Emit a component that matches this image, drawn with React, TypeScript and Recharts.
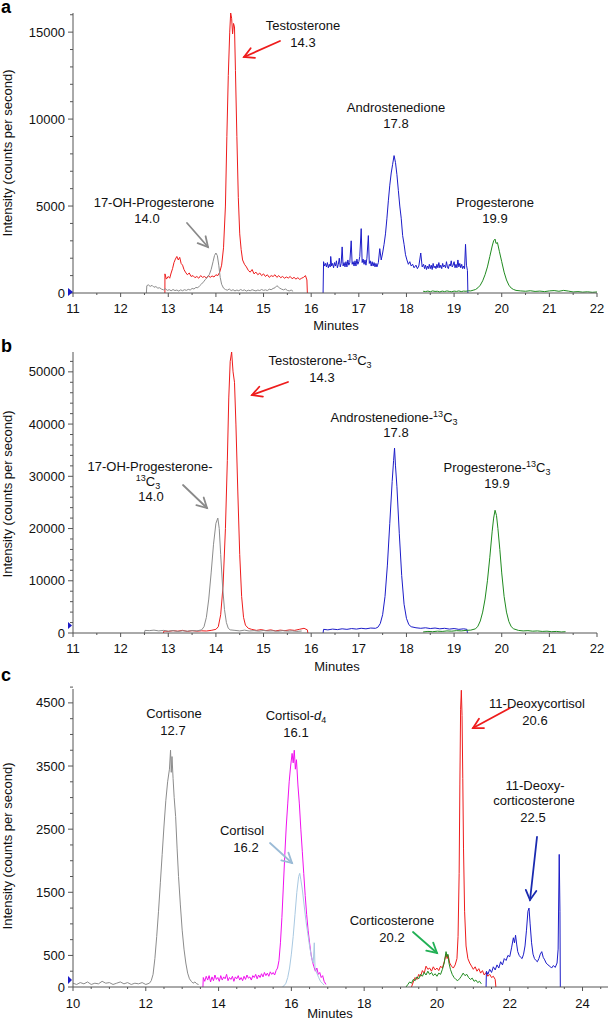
import React from 'react';
import { LineChart, Line, XAxis, YAxis } from 'recharts';

type P = [number, number];

// ---------- Panel a (minutes, counts per second) ----------
const aRed: P[] = [[12.929,0],[12.93,1100],[12.96,800],[13.0,950],[13.03,850],[13.06,1150],[13.09,1400],[13.12,1750],[13.15,1950],[13.18,2100],[13.21,1900],[13.24,2050],[13.27,1700],[13.3,1600],[13.33,1350],[13.36,1200],[13.4,1050],[13.44,1150],[13.48,950],[13.52,1000],[13.56,880],[13.6,950],[13.64,850],[13.68,1000],[13.72,900],[13.76,950],[13.8,860],[13.84,1000],[13.88,900],[13.92,980],[13.96,920],[14.0,1050],[14.04,1000],[14.08,1200],[14.12,1600],[14.16,2600],[14.2,5000],[14.23,9000],[14.26,12500],[14.29,15000],[14.31,16100],[14.33,15800],[14.35,14900],[14.37,15500],[14.39,15300],[14.41,12800],[14.44,9000],[14.47,5500],[14.5,3400],[14.53,2500],[14.56,1900],[14.6,1650],[14.64,1500],[14.68,1300],[14.72,1200],[14.76,1350],[14.8,1100],[14.84,1200],[14.88,1050],[14.92,1150],[14.96,1000],[15.0,1100],[15.04,950],[15.08,1050],[15.12,900],[15.16,1000],[15.2,950],[15.24,1050],[15.28,900],[15.32,1000],[15.36,880],[15.4,950],[15.44,850],[15.48,920],[15.52,860],[15.56,950],[15.6,820],[15.64,900],[15.68,800],[15.72,880],[15.76,780],[15.8,850],[15.84,900],[15.88,1000],[15.91,750],[15.92,0]];
const aGray: P[] = [[12.54,0],[12.55,420],[12.58,470],[12.62,380],[12.66,440],[12.7,330],[12.74,370],[12.78,280],[12.82,300],[12.86,220],[12.9,180],[12.94,240],[12.98,150],[13.02,190],[13.06,130],[13.1,200],[13.14,140],[13.18,170],[13.22,110],[13.26,180],[13.3,130],[13.34,190],[13.38,150],[13.42,210],[13.46,170],[13.5,260],[13.54,230],[13.58,320],[13.62,300],[13.66,420],[13.7,520],[13.74,640],[13.78,780],[13.82,900],[13.86,1050],[13.9,1350],[13.94,1800],[13.97,2150],[14.0,2300],[14.03,2150],[14.06,1600],[14.09,900],[14.12,500],[14.16,280],[14.2,200],[14.24,160],[14.28,230],[14.32,140],[14.36,190],[14.4,120],[14.44,170],[14.48,130],[14.52,200],[14.56,140],[14.6,180],[14.64,110],[14.68,160],[14.72,130],[14.76,190],[14.8,150],[14.84,120],[14.88,170],[14.92,140],[14.96,200],[15.0,150],[15.04,180],[15.08,140],[15.12,220],[15.16,190],[15.2,260],[15.24,300],[15.28,420],[15.31,350],[15.34,280],[15.38,220],[15.42,180],[15.46,230],[15.5,150],[15.54,120],[15.58,170],[15.62,100]];
const aBlue: P[] = [[16.25,0],[16.26,1800],[16.28,1550],[16.3,1700],[16.32,1500],[16.34,1750],[16.36,1450],[16.38,1650],[16.4,1500],[16.41,2100],[16.43,1550],[16.45,1700],[16.47,1450],[16.49,1750],[16.51,1550],[16.53,1850],[16.55,1450],[16.57,1650],[16.59,2000],[16.61,1500],[16.63,1700],[16.65,2650],[16.67,1550],[16.69,1750],[16.71,1500],[16.73,1800],[16.75,1500],[16.77,1900],[16.79,1600],[16.81,1750],[16.84,3000],[16.86,1650],[16.88,1800],[16.9,1550],[16.92,1850],[16.94,1550],[16.96,1950],[16.98,1650],[17.0,1800],[17.02,2100],[17.05,3700],[17.07,1750],[17.09,1950],[17.11,1650],[17.13,1900],[17.15,1600],[17.17,2000],[17.2,3300],[17.22,1700],[17.24,1850],[17.26,1550],[17.28,1800],[17.3,1550],[17.32,1750],[17.34,1500],[17.36,1700],[17.38,1500],[17.41,1750],[17.44,2550],[17.47,1900],[17.5,2300],[17.53,2800],[17.56,3400],[17.59,4300],[17.62,5300],[17.65,6200],[17.68,6900],[17.71,7400],[17.74,7900],[17.77,7500],[17.8,6800],[17.83,5900],[17.86,5000],[17.89,4300],[17.92,3300],[17.95,2800],[17.98,2200],[18.01,1900],[18.04,1650],[18.07,1800],[18.1,1550],[18.13,1650],[18.16,1450],[18.2,1600],[18.23,1400],[18.26,1550],[18.3,2300],[18.33,1500],[18.36,1650],[18.38,1400],[18.4,1600],[18.42,1350],[18.44,1550],[18.46,1400],[18.48,1650],[18.5,1400],[18.52,1600],[18.54,1350],[18.56,1700],[18.58,1450],[18.6,1550],[18.62,1400],[18.64,1650],[18.66,1450],[18.68,1750],[18.7,1450],[18.72,1600],[18.74,1400],[18.76,1700],[18.78,1500],[18.8,1600],[18.82,1450],[18.84,1800],[18.86,1500],[18.88,1400],[18.9,1650],[18.92,1550],[18.94,1850],[18.96,1500],[18.98,1600],[19.0,1800],[19.02,1450],[19.04,1650],[19.06,1450],[19.08,1900],[19.1,1500],[19.12,1700],[19.14,1450],[19.16,1650],[19.18,1400],[19.2,1550],[19.22,1400],[19.24,2800],[19.26,1600],[19.28,1300],[19.29,0]];
const aGreen: P[] = [[18.35,100],[18.4,80],[18.45,110],[18.5,70],[18.55,120],[18.6,90],[18.65,100],[18.7,60],[18.75,110],[18.8,80],[18.85,120],[18.9,90],[18.95,70],[19.0,110],[19.05,90],[19.1,120],[19.15,80],[19.2,110],[19.25,100],[19.3,130],[19.35,120],[19.4,160],[19.45,200],[19.5,300],[19.55,450],[19.6,700],[19.65,1050],[19.7,1500],[19.75,2100],[19.8,2700],[19.83,3000],[19.86,3100],[19.88,2850],[19.91,2900],[19.95,2400],[20.0,1800],[20.05,1200],[20.1,750],[20.15,450],[20.2,280],[20.25,200],[20.3,150],[20.4,120],[20.5,100],[20.6,130],[20.7,90],[20.8,110],[20.9,80],[21.0,120],[21.1,140],[21.2,100],[21.3,150],[21.4,110],[21.5,60],[21.6,80],[21.7,50],[21.8,70],[21.9,40],[22.0,60]];

// ---------- Panel b ----------
const bRed: P[] = [[12.9,0],[12.91,400],[13.0,300],[13.1,450],[13.2,350],[13.3,500],[13.4,300],[13.5,450],[13.6,350],[13.7,420],[13.8,380],[13.9,500],[14.0,700],[14.05,1200],[14.1,3500],[14.15,9000],[14.2,20000],[14.24,33000],[14.27,45000],[14.3,52000],[14.33,53800],[14.36,50000],[14.39,48000],[14.42,40000],[14.46,27000],[14.5,15000],[14.54,7000],[14.58,3000],[14.62,1500],[14.68,900],[14.75,700],[14.85,500],[14.95,650],[15.05,450],[15.15,600],[15.25,400],[15.35,550],[15.45,450],[15.55,600],[15.65,500],[15.75,700],[15.85,900],[15.92,600],[15.93,0]];
const bGray: P[] = [[12.5,0],[12.51,500],[12.6,450],[12.7,550],[12.8,400],[12.9,500],[13.0,350],[13.1,450],[13.2,300],[13.3,420],[13.4,350],[13.5,450],[13.6,400],[13.7,600],[13.75,1200],[13.8,3000],[13.85,6500],[13.9,11500],[13.95,17000],[14.0,21000],[14.04,22000],[14.07,20000],[14.1,15000],[14.14,9000],[14.18,4500],[14.22,2000],[14.26,900],[14.3,600],[14.4,500],[14.5,400],[14.6,550],[14.7,380],[14.8,450],[14.9,350],[15.0,480],[15.1,380],[15.2,420],[15.3,330],[15.4,450],[15.5,350],[15.6,400],[15.7,300],[15.8,380]];
const bBlue: P[] = [[16.25,0],[16.26,700],[16.35,600],[16.45,750],[16.55,650],[16.65,800],[16.75,700],[16.85,850],[16.95,750],[17.05,900],[17.15,800],[17.25,950],[17.35,900],[17.4,1100],[17.45,1800],[17.5,3500],[17.55,7000],[17.6,13000],[17.65,21000],[17.7,29000],[17.73,33000],[17.75,35400],[17.77,32000],[17.8,28000],[17.85,19000],[17.9,11000],[17.95,5500],[18.0,2800],[18.05,1600],[18.1,1200],[18.2,1000],[18.3,900],[18.4,1000],[18.5,850],[18.6,950],[18.7,800],[18.8,900],[18.9,750],[19.0,850],[19.1,700],[19.2,800],[19.27,700],[19.28,0]];
const bGreen: P[] = [[18.35,200],[18.45,300],[18.55,250],[18.65,350],[18.75,300],[18.85,400],[18.95,350],[19.05,450],[19.15,400],[19.25,500],[19.35,550],[19.45,800],[19.5,1300],[19.55,2300],[19.6,4000],[19.65,6500],[19.7,10000],[19.75,14500],[19.8,19500],[19.83,22000],[19.86,23500],[19.89,22500],[19.92,20000],[19.96,16000],[20.0,11500],[20.05,7000],[20.1,4000],[20.15,2200],[20.2,1200],[20.25,800],[20.35,500],[20.45,400],[20.55,450],[20.65,350],[20.75,400],[20.85,300],[20.95,350],[21.05,250],[21.15,300],[21.25,200],[21.34,250]];

// ---------- Panel c ----------
const cGray: P[] = [[10.0,60],[10.1,40],[10.2,70],[10.3,50],[10.4,80],[10.5,40],[10.6,60],[10.7,50],[10.8,90],[10.9,60],[11.0,70],[11.1,40],[11.2,60],[11.3,80],[11.4,50],[11.5,70],[11.6,40],[11.7,60],[11.8,50],[11.9,70],[12.0,40],[12.1,60],[12.15,100],[12.2,200],[12.25,450],[12.3,800],[12.35,1200],[12.4,1650],[12.45,2100],[12.5,2550],[12.55,2950],[12.6,3250],[12.65,3450],[12.68,3750],[12.7,3400],[12.72,3650],[12.75,3300],[12.78,3000],[12.82,2700],[12.86,2200],[12.9,1750],[12.95,1300],[13.0,900],[13.05,600],[13.1,380],[13.15,220],[13.2,130],[13.25,90],[13.3,60],[13.35,80],[13.4,50],[13.45,40]];
const cMagenta: P[] = [[13.57,0],[13.58,150],[13.62,90],[13.66,170],[13.7,110],[13.74,180],[13.78,80],[13.82,160],[13.86,100],[13.9,190],[13.94,120],[13.98,150],[14.02,90],[14.06,180],[14.1,110],[14.14,160],[14.18,130],[14.22,200],[14.26,100],[14.3,150],[14.34,120],[14.38,170],[14.42,90],[14.46,160],[14.5,130],[14.54,180],[14.58,110],[14.62,150],[14.66,100],[14.7,170],[14.74,120],[14.78,190],[14.82,140],[14.86,160],[14.9,110],[14.94,180],[14.98,150],[15.02,200],[15.06,130],[15.1,190],[15.14,150],[15.18,210],[15.22,160],[15.26,230],[15.3,180],[15.34,220],[15.38,170],[15.42,240],[15.46,200],[15.5,230],[15.54,190],[15.58,260],[15.62,300],[15.66,420],[15.7,700],[15.74,1100],[15.78,1600],[15.82,2100],[15.86,2550],[15.9,2900],[15.94,3250],[15.98,3500],[16.02,3700],[16.05,3550],[16.08,3750],[16.11,3450],[16.14,3600],[16.18,3200],[16.22,2900],[16.26,2500],[16.3,2150],[16.34,1800],[16.38,1450],[16.42,1150],[16.46,900],[16.5,700],[16.54,520],[16.58,400],[16.62,320],[16.66,250],[16.7,300],[16.74,200],[16.78,230],[16.82,150],[16.86,180],[16.9,90],[16.95,40]];
const cLightBlue: P[] = [[15.75,0],[15.8,20],[15.85,60],[15.9,150],[15.95,300],[16.0,520],[16.05,800],[16.1,1150],[16.15,1500],[16.2,1750],[16.23,1800],[16.26,1700],[16.3,1550],[16.35,1300],[16.4,1050],[16.45,850],[16.5,650],[16.55,480],[16.6,380],[16.63,700],[16.65,300],[16.7,220],[16.75,150],[16.8,90],[16.85,60],[16.9,30]];
const cRed: P[] = [[19.3,0],[19.35,80],[19.4,150],[19.45,120],[19.5,200],[19.55,170],[19.6,260],[19.65,220],[19.7,330],[19.75,280],[19.8,300],[19.85,250],[19.9,320],[19.95,270],[20.0,300],[20.05,260],[20.1,330],[20.15,300],[20.2,400],[20.25,520],[20.28,450],[20.31,500],[20.35,380],[20.4,330],[20.45,300],[20.5,350],[20.55,450],[20.58,800],[20.61,1800],[20.63,3200],[20.65,4400],[20.67,4700],[20.69,4300],[20.71,3300],[20.73,2200],[20.76,1200],[20.8,650],[20.85,450],[20.9,380],[20.95,330],[21.0,280],[21.05,320],[21.1,250],[21.15,290],[21.2,220],[21.25,260],[21.3,190],[21.35,230],[21.4,170],[21.45,200],[21.5,150],[21.55,170],[21.6,120],[21.62,0]];
const cGreen: P[] = [[19.15,0],[19.2,40],[19.25,80],[19.3,60],[19.35,120],[19.4,100],[19.45,160],[19.5,130],[19.55,200],[19.6,170],[19.65,230],[19.7,190],[19.75,250],[19.8,200],[19.85,230],[19.9,180],[19.95,210],[20.0,170],[20.05,220],[20.1,200],[20.15,280],[20.2,380],[20.25,560],[20.28,480],[20.3,520],[20.33,380],[20.37,280],[20.42,200],[20.47,150],[20.52,120],[20.57,100],[20.62,130],[20.67,170],[20.72,220],[20.77,180],[20.82,200],[20.87,150],[20.92,120],[20.97,140],[21.02,90],[21.07,110],[21.12,70],[21.17,90],[21.22,50]];
const cBlue: P[] = [[21.35,0],[21.36,250],[21.4,200],[21.45,280],[21.5,230],[21.55,320],[21.6,270],[21.65,350],[21.7,300],[21.75,400],[21.8,350],[21.85,450],[21.9,420],[21.95,500],[22.0,480],[22.05,620],[22.1,780],[22.13,700],[22.16,820],[22.19,680],[22.22,560],[22.26,500],[22.3,470],[22.34,450],[22.38,520],[22.42,650],[22.46,900],[22.5,1200],[22.53,1250],[22.56,1000],[22.6,700],[22.64,520],[22.68,450],[22.72,420],[22.76,400],[22.8,450],[22.84,520],[22.88,560],[22.92,470],[22.96,430],[23.0,380],[23.05,350],[23.1,330],[23.15,300],[23.2,340],[23.25,310],[23.3,380],[23.33,600],[23.36,2100],[23.38,1200],[23.39,0]];

// ---------- Axis ticks ----------
const aXMajor = [11, 12, 13, 14, 15, 16, 17, 18, 19, 20, 21, 22];
const aXMinor = [11.5, 12.5, 13.5, 14.5, 15.5, 16.5, 17.5, 18.5, 19.5, 20.5, 21.5];
const aYMajor = [0, 5000, 10000, 15000];
const aYMinor = [1000, 2000, 3000, 4000, 6000, 7000, 8000, 9000, 11000, 12000, 13000, 14000, 16000];
const bYMajor = [0, 10000, 20000, 30000, 40000, 50000];
const bYMinor = [2000, 4000, 6000, 8000, 12000, 14000, 16000, 18000, 22000, 24000, 26000, 28000, 32000, 34000, 36000, 38000, 42000, 44000, 46000, 48000, 52000];
const cXMajor = [10, 12, 14, 16, 18, 20, 22, 24];
const cXMinor = [10.5, 11, 11.5, 12.5, 13, 13.5, 14.5, 15, 15.5, 16.5, 17, 17.5, 18.5, 19, 19.5, 20.5, 21, 21.5, 22.5, 23, 23.5, 24.5];
const cYMajor = [0, 500, 1500, 2500, 3500, 4500];
const cYMinor = [250, 750, 1000, 1250, 1750, 2000, 2250, 2750, 3000, 3250, 3750, 4000, 4250, 4750];

const RED = '#ee1c1c';
const GRAY = '#8c8c8c';
const BLUE = '#1c1cc8';
const GREEN = '#1f8a1f';
const MAGENTA = '#f010ee';
const LIGHTBLUE = '#a9c9e2';
const AXIS = '#555';
const FONT = '"Liberation Sans", Arial, sans-serif';

const toRows = (pts: P[]) => pts.map(([t, v]) => ({ t, v }));

const sortNum = (a: number[], b: number[]) => [...a, ...b].sort((x, y) => x - y);

function YTick(props: any) {
  const { x, y, payload, majors } = props;
  const major = majors.includes(payload.value);
  return (
    <g>
      <line x1={x - (major ? 5 : 3)} x2={x} y1={y} y2={y} stroke={AXIS} strokeWidth={1} />
      {major && (
        <text x={x - 8} y={y + 4.5} textAnchor="end" fontSize={13} fill="#111" fontFamily={FONT}>
          {payload.value}
        </text>
      )}
    </g>
  );
}

function XTick(props: any) {
  const { x, y, payload, majors, labelDy } = props;
  const major = majors.includes(payload.value);
  return (
    <g>
      <line x1={x} x2={x} y1={y} y2={y + (major ? 4 : 2)} stroke={AXIS} strokeWidth={1} />
      {major && (
        <text x={x} y={y + labelDy} textAnchor="middle" fontSize={13} fill="#111" fontFamily={FONT}>
          {payload.value}
        </text>
      )}
    </g>
  );
}

type Series = { pts: P[]; color: string };

function Panel(props: {
  top: number; height: number; mTop: number; mRight: number; yW: number; xH: number;
  xDomain: [number, number]; xMajor: number[]; xMinor: number[]; labelDy: number;
  yDomain: [number, number]; yMajor: number[]; yMinor: number[]; series: Series[];
}) {
  const p = props;
  return (
    <div style={{ position: 'absolute', left: 0, top: p.top, width: 609, height: p.height }}>
      <LineChart width={609} height={p.height} margin={{ top: p.mTop, right: p.mRight, left: 0, bottom: 0 }}>
        <XAxis
          type="number" dataKey="t" domain={p.xDomain} allowDataOverflow
          ticks={sortNum(p.xMajor, p.xMinor)} interval={0} height={p.xH}
          tickSize={0} tickMargin={0} tickLine={false}
          axisLine={{ stroke: AXIS, strokeWidth: 1 }}
          tick={(tp: any) => <XTick {...tp} majors={p.xMajor} labelDy={p.labelDy} />}
        />
        <YAxis
          type="number" domain={p.yDomain} allowDataOverflow
          ticks={sortNum(p.yMajor, p.yMinor)} interval={0} width={p.yW}
          tickSize={0} tickMargin={0} tickLine={false}
          axisLine={{ stroke: AXIS, strokeWidth: 1 }}
          tick={(tp: any) => <YTick {...tp} majors={p.yMajor} />}
        />
        {p.series.map((s, i) => (
          <Line
            key={i} data={toRows(s.pts)} dataKey="v" type="linear" stroke={s.color}
            strokeWidth={1} dot={false} activeDot={false} isAnimationActive={false}
          />
        ))}
      </LineChart>
    </div>
  );
}

function Arrow({ x1, y1, x2, y2, color }: { x1: number; y1: number; x2: number; y2: number; color: string }) {
  const ang = Math.atan2(y2 - y1, x2 - x1);
  const L = 11;
  const s = 0.5;
  const h1x = x2 - L * Math.cos(ang - s), h1y = y2 - L * Math.sin(ang - s);
  const h2x = x2 - L * Math.cos(ang + s), h2y = y2 - L * Math.sin(ang + s);
  return (
    <g stroke={color} strokeWidth={1.8} fill="none" strokeLinecap="round">
      <line x1={x1} y1={y1} x2={x2} y2={y2} />
      <polyline points={`${h1x},${h1y} ${x2},${y2} ${h2x},${h2y}`} />
    </g>
  );
}

function T({ x, y, children, anchor = 'middle' }: any) {
  return (
    <text x={x} y={y} textAnchor={anchor} fontSize={13} fill="#111" fontFamily={FONT}>{children}</text>
  );
}

const C13 = (
  <>
    <tspan fontSize={9} dy={-5}>13</tspan>
    <tspan dy={5}>C</tspan>
    <tspan fontSize={9} dy={3}>3</tspan>
  </>
);

function Overlay() {
  return (
    <svg width={609} height={1020} style={{ position: 'absolute', left: 0, top: 0, pointerEvents: 'none' }}>
      {/* panel letters */}
      <text x={1} y={13} fontSize={18} fontWeight="bold" fontFamily={FONT} fill="#000">a</text>
      <text x={1} y={352} fontSize={18} fontWeight="bold" fontFamily={FONT} fill="#000">b</text>
      <text x={1} y={681} fontSize={18} fontWeight="bold" fontFamily={FONT} fill="#000">c</text>

      {/* y labels */}
      {[153, 494, 846].map((cy, i) => (
        <text key={i} transform={`translate(12,${cy}) rotate(-90)`} textAnchor="middle" fontSize={13} fill="#111" fontFamily={FONT}>
          Intensity (counts per second)
        </text>
      ))}
      {/* x labels */}
      <T x={336} y={330}>Minutes</T>
      <T x={337} y={671}>Minutes</T>
      <T x={330} y={1018}>Minutes</T>

      {/* origin markers */}
      <polygon points="68,288 68,296 73,292" fill="#1c1cc8" />
      <polygon points="68,622 68,629 72,625.5" fill="#1c1cc8" />
      <polygon points="68,976 68,984 72,980" fill="#1c1cc8" />

      {/* panel a annotations */}
      <T x={303} y={30}>Testosterone</T>
      <T x={303} y={47}>14.3</T>
      <Arrow x1={280} y1={41} x2={244} y2={57} color={RED} />
      <T x={154} y={207}>17-OH-Progesterone</T>
      <T x={147} y={223}>14.0</T>
      <Arrow x1={187} y1={223} x2={208} y2={247} color="#8a8a8a" />
      <T x={396} y={112}>Androstenedione</T>
      <T x={396} y={128}>17.8</T>
      <T x={495} y={207}>Progesterone</T>
      <T x={495} y={223}>19.9</T>

      {/* panel b annotations */}
      <T x={320} y={365}>Testosterone-{C13}</T>
      <T x={322} y={382}>14.3</T>
      <Arrow x1={288} y1={382} x2={252} y2={395} color={RED} />
      <T x={150} y={471}>17-OH-Progesterone-</T>
      <T x={148} y={486}>{C13}</T>
      <T x={151} y={501}>14.0</T>
      <Arrow x1={183} y1={485} x2={207} y2={508} color="#8a8a8a" />
      <T x={394} y={422}>Androstenedione-{C13}</T>
      <T x={396} y={437}>17.8</T>
      <T x={497} y={472}>Progesterone-{C13}</T>
      <T x={497} y={488}>19.9</T>

      {/* panel c annotations */}
      <T x={174} y={718}>Cortisone</T>
      <T x={173} y={735}>12.7</T>
      <T x={296} y={720}>Cortisol-<tspan fontStyle="italic">d</tspan><tspan fontSize={9} dy={3}>4</tspan></T>
      <T x={296} y={737}>16.1</T>
      <T x={242} y={835}>Cortisol</T>
      <T x={246} y={852}>16.2</T>
      <Arrow x1={270} y1={843} x2={292} y2={863} color="#9bbbd6" />
      <T x={392} y={925}>Corticosterone</T>
      <T x={392} y={942}>20.2</T>
      <Arrow x1={413} y1={932} x2={437} y2={953} color="#22b055" />
      <T x={537} y={708}>11-Deoxycortisol</T>
      <T x={535} y={725}>20.6</T>
      <Arrow x1={510} y1={708} x2={473} y2={728} color={RED} />
      <T x={535} y={790}>11-Deoxy-</T>
      <T x={534} y={805}>corticosterone</T>
      <T x={533} y={822}>22.5</T>
      <Arrow x1={537} y1={837} x2={530} y2={900} color="#1a2ab0" />
    </svg>
  );
}

export default function App() {
  return (
    <div style={{ position: 'absolute', left: 0, top: 0, width: 609, height: 1020, background: '#fff', overflow: 'hidden' }}>
      <Panel
        top={0} height={340} mTop={13} mRight={12} yW={73} xH={47}
        xDomain={[11, 22]} xMajor={aXMajor} xMinor={aXMinor} labelDy={20}
        yDomain={[0, 16100]} yMajor={aYMajor} yMinor={aYMinor}
        series={[
          { pts: aRed, color: RED },
          { pts: aGray, color: GRAY },
          { pts: aBlue, color: BLUE },
          { pts: aGreen, color: GREEN },
        ]}
      />
      <Panel
        top={340} height={340} mTop={12} mRight={12} yW={73} xH={47}
        xDomain={[11, 22]} xMajor={aXMajor} xMinor={aXMinor} labelDy={20}
        yDomain={[0, 53800]} yMajor={bYMajor} yMinor={bYMinor}
        series={[
          { pts: bRed, color: RED },
          { pts: bGray, color: GRAY },
          { pts: bBlue, color: BLUE },
          { pts: bGreen, color: GREEN },
        ]}
      />
      <Panel
        top={680} height={340} mTop={9} mRight={1} yW={73} xH={33}
        xDomain={[10, 24.7]} xMajor={cXMajor} xMinor={cXMinor} labelDy={21}
        yDomain={[0, 4720]} yMajor={cYMajor} yMinor={cYMinor}
        series={[
          { pts: cGray, color: GRAY },
          { pts: cMagenta, color: MAGENTA },
          { pts: cLightBlue, color: LIGHTBLUE },
          { pts: cRed, color: RED },
          { pts: cGreen, color: GREEN },
          { pts: cBlue, color: BLUE },
        ]}
      />
      <Overlay />
    </div>
  );
}
